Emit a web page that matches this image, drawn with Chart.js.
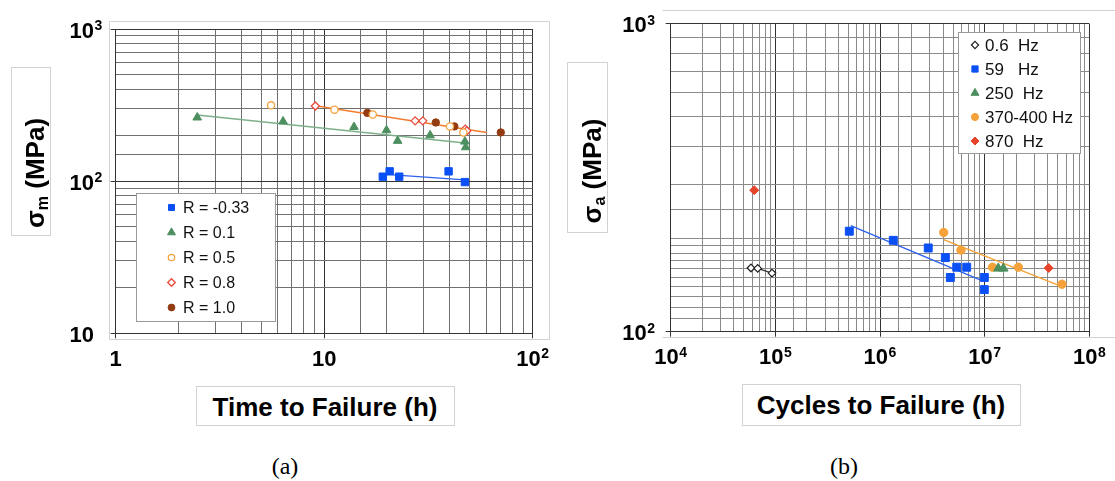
<!DOCTYPE html>
<html>
<head>
<meta charset="utf-8">
<script src="https://cdn.jsdelivr.net/npm/chart.js@4.4.1/dist/chart.umd.min.js"></script>
<style>
  body { margin: 0; background: #fff; width: 1115px; height: 481px; position: relative; overflow: hidden;
         font-family: "Liberation Sans", Arial, sans-serif; }
  canvas { position: absolute; top: 0; }
  .box { position: absolute; border: 1px solid #d2d2d2; box-sizing: border-box; background: #fff; }
  .ttl { position: absolute; font-weight: bold; font-size: 26px; white-space: nowrap; color: #000;
         transform: translate(-50%, -50%); line-height: 1; }
  .ttl.rot { transform: translate(-50%, -50%) rotate(-90deg); }
  .ttl sub { font-size: 0.62em; vertical-align: -0.25em; }
  .cap { position: absolute; font-family: "Liberation Serif", "Times New Roman", serif; font-size: 24px;
         transform: translate(-50%, -50%); line-height: 1; }
</style>
</head>
<body>
<canvas id="chartA" width="560" height="400" style="left:0"></canvas>
<canvas id="chartB" width="555" height="400" style="left:560px"></canvas>

<div class="box" style="left:11px;top:67px;width:40px;height:169px"></div>
<div class="ttl rot" style="left:36px;top:173px">σ<sub>m</sub> (MPa)</div>
<div class="box" style="left:196px;top:386px;width:259px;height:40px"></div>
<div class="ttl" style="left:325px;top:407px">Time to Failure (h)</div>
<div class="cap" style="left:285px;top:466px">(a)</div>

<div class="box" style="left:567px;top:62px;width:41px;height:171px"></div>
<div class="ttl rot" style="left:593px;top:171px">σ<sub>a</sub> (MPa)</div>
<div class="box" style="left:742px;top:384px;width:279px;height:42px"></div>
<div class="ttl" style="left:881px;top:405px">Cycles to Failure (h)</div>
<div class="cap" style="left:844px;top:466px">(b)</div>

<script>
// ---- (a) time to failure (h) / mean stress (MPa)
const aRm033T = [19.1, 20.6, 22.9, 39.5, 47.3];
const aRm033S = [107, 116, 107, 116, 98.6];
const aR01T = [2.46, 6.35, 13.9, 19.9, 22.5, 32.2, 47.3, 47.7];
const aR01S = [262, 247, 227, 216, 184, 200, 182, 167];
const aR05T = [5.56, 11.2, 17.1, 40.1, 46.5];
const aR05S = [315, 295, 274, 229, 209];
const aR08T = [9.07, 27.3, 29.7, 47.5, 48.3];
const aR08S = [312, 249, 249, 220, 214];
const aR10T = [16.1, 34.3, 42.1, 70.3];
const aR10S = [281, 243, 229, 209];
// fitted lines, end points
const aFitBlueT = [21.4, 47.3],  aFitBlueS = [110, 102];
const aFitGreenT = [2.46, 47.3], aFitGreenS = [272, 178];
const aFitOrangeT = [9.07, 60.2], aFitOrangeS = [313, 209];
// tick labels: base and exponent
const aXTicks = [1, 10, 100],    aXTickBase = ['1', '10', '10'],  aXTickExp = ['', '', '2'];
const aYTicks = [10, 100, 1000], aYTickBase = ['10', '10', '10'], aYTickExp = ['', '2', '3'];

// ---- (b) cycles to failure / stress amplitude (MPa)
const b06N = [5.85e4, 6.78e4, 9.29e4];
const b06S = [161, 160.5, 155];
const b59N = [5.09e5, 1.34e6, 2.89e6, 4.21e6, 5.41e6, 6.74e6, 4.70e6, 9.93e6, 9.93e6];
const b59S = [212, 198, 187, 174, 162, 162, 150, 150, 137];
const b250N = [1.35e7, 1.51e7];
const b250S = [160.5, 160.5];
const b370N = [4.06e6, 5.94e6, 1.19e7, 2.10e7, 5.48e7];
const b370S = [210, 184, 162, 162, 142.6];
const b870N = [6.29e4, 4.09e7];
const b870S = [288, 161];
const bFitBlackN = [6.78e4, 9.29e4],  bFitBlackS = [160.5, 155];
const bFitBlueN = [5.25e5, 9.17e6],   bFitBlueS = [221, 147];
const bFitOrangeN = [4.06e6, 5.48e7], bFitOrangeS = [199, 140];
const bXTicks = [1e4, 1e5, 1e6, 1e7, 1e8], bXTickBase = ['10', '10', '10', '10', '10'], bXTickExp = ['4', '5', '6', '7', '8'];
const bYTicks = [100, 1000], bYTickBase = ['10', '10'], bYTickExp = ['2', '3'];

const pts = (xs, ys) => xs.map((x, i) => ({x: x, y: ys[i]}));
const isDecade = v => Math.abs(Math.log10(v) - Math.round(Math.log10(v))) < 1e-9;

const marks = (label, x, y, style, r, fill, line, bw) => ({
  label, data: pts(x, y), pointStyle: style, pointRadius: r, pointHoverRadius: r,
  backgroundColor: fill, borderColor: line, pointBorderWidth: bw || 1, showLine: false
});
const fit = (x, y, color) => ({
  data: pts(x, y), showLine: true, pointRadius: 0, borderColor: color, borderWidth: 1.4,
  backgroundColor: color, order: 5
});

// light frame lines round each plot
const frame = {
  id: 'frame',
  beforeDraw(chart, args, o) {
    const ctx = chart.ctx;
    ctx.save();
    ctx.strokeStyle = '#d2d2d2';
    ctx.lineWidth = 1;
    ctx.beginPath();
    o.lines.forEach(l => { ctx.moveTo(l[0], l[1]); ctx.lineTo(l[2], l[3]); });
    ctx.stroke();
    ctx.restore();
  }
};

// decade labels "10" + raised exponent, placed with the scales
const decadeLabels = {
  id: 'decadeLabels',
  afterDraw(chart, args, o) {
    const ctx = chart.ctx, area = chart.chartArea;
    const big = 'bold 22px "Liberation Sans", Arial, sans-serif';
    const small = 'bold 14px "Liberation Sans", Arial, sans-serif';
    const put = (base, exp, left, yb) => {
      ctx.font = big;
      ctx.fillText(base, left, yb);
      const w = ctx.measureText(base).width;
      if (exp) { ctx.font = small; ctx.fillText(exp, left + w + 0.5, yb - 7.5); }
    };
    const width = (base, exp) => {
      ctx.font = big; let w = ctx.measureText(base).width;
      if (exp) { ctx.font = small; w += ctx.measureText(exp).width + 0.5; }
      return w;
    };
    ctx.save();
    ctx.fillStyle = '#000';
    ctx.textAlign = 'left';
    ctx.textBaseline = 'alphabetic';
    o.x.vals.forEach((v, i) => {
      const px = chart.scales.x.getPixelForValue(v);
      const w = width(o.x.base[i], o.x.exp[i]);
      put(o.x.base[i], o.x.exp[i], px - w / 2, area.bottom + 32.5);
    });
    o.y.vals.forEach((v, i) => {
      const py = chart.scales.y.getPixelForValue(v);
      ctx.font = big;
      const w = ctx.measureText(o.y.base[i]).width;
      put(o.y.base[i], o.y.exp[i], area.left - o.y.gap - w, py + 8.5);
    });
    ctx.restore();
  }
};

// legend drawn in a white box inside the plot
const boxLegend = {
  id: 'boxLegend',
  afterDatasetsDraw(chart, args, o) {
    const ctx = chart.ctx;
    ctx.save();
    ctx.fillStyle = '#fff';
    ctx.fillRect(o.x, o.y, o.w, o.h);
    ctx.strokeStyle = '#9a9a9a';
    ctx.lineWidth = 1;
    ctx.strokeRect(o.x + 0.5, o.y + 0.5, o.w, o.h);
    ctx.font = o.font;
    ctx.textBaseline = 'middle';
    chart.data.datasets.filter(d => d.label).forEach((d, i) => {
      const cy = o.y + o.first + i * o.row;
      ctx.fillStyle = d.backgroundColor;
      ctx.strokeStyle = d.borderColor;
      ctx.lineWidth = d.pointBorderWidth;
      Chart.helpers.drawPoint(ctx, {pointStyle: d.pointStyle, radius: o.r[i], rotation: 0,
        borderWidth: d.pointBorderWidth}, o.mx, cy);
      ctx.fillStyle = '#111';
      ctx.fillText(d.label, o.tx, cy + 1);
    });
    ctx.restore();
  }
};

const logAxis = (min, max, minor, extra) => Object.assign({
  type: 'logarithmic', min, max,
  border: {color: '#333', width: 1},
  grid: {
    color: c => c.tick && isDecade(c.tick.value) ? '#333' : minor,
    tickColor: c => c.tick && isDecade(c.tick.value) ? '#333' : 'rgba(0,0,0,0)',
    tickLength: 5, lineWidth: 1
  },
  ticks: {display: false, autoSkip: false, maxRotation: 0}
}, extra);

Chart.defaults.animation = false;

new Chart('chartA', {
  type: 'scatter',
  data: {datasets: [
    marks('R = -0.33', aRm033T, aRm033S, 'rect', 5.2, '#0b50f5', '#0b50f5'),
    marks('R = 0.1', aR01T, aR01S, 'triangle', 5, '#4d8f5f', '#4d8f5f'),
    marks('R = 0.5', aR05T, aR05S, 'circle', 3.6, '#fff', '#f5a340', 1.3),
    marks('R = 0.8', aR08T, aR08S, 'rectRot', 4, '#fff', '#ea4a3a', 1.3),
    marks('R = 1.0', aR10T, aR10S, 'circle', 3.7, '#933c12', '#933c12'),
    fit(aFitBlueT, aFitBlueS, '#2d62f0'),
    fit(aFitGreenT, aFitGreenS, '#7db08a'),
    fit(aFitOrangeT, aFitOrangeS, '#f27d30')
  ]},
  options: {
    responsive: false,
    layout: {autoPadding: false, padding: {left: 0, top: 29, right: 27.3, bottom: 26.7}},
    plugins: {
      legend: {display: false}, tooltip: {enabled: false},
      frame: {lines: [[109.5, 21.5, 549.5, 21.5], [109.5, 339.5, 549.5, 339.5],
                      [109.5, 21.5, 109.5, 339.5], [549.5, 21.5, 549.5, 339.5]]},
      decadeLabels: {x: {vals: aXTicks, base: aXTickBase, exp: aXTickExp},
                     y: {vals: aYTicks, base: aYTickBase, exp: aYTickExp, gap: 21.7}},
      boxLegend: {x: 136, y: 193, w: 139, h: 128, first: 14.5, row: 25, mx: 171.5, tx: 183,
                  r: [4.2, 4.6, 3.2, 3.8, 3.4], font: '16px "Liberation Sans", Arial, sans-serif'}
    },
    scales: {
      x: logAxis(1, 100, '#707070',
        {afterFit: s => { s.height = 40; s.paddingLeft = 0; s.paddingRight = 0; }}),
      y: logAxis(10, 1000, '#707070',
        {afterFit: s => { s.width = 115.7; s.paddingTop = 0; s.paddingBottom = 0; }})
    }
  },
  plugins: [frame, boxLegend, decadeLabels]
});

new Chart('chartB', {
  type: 'scatter',
  data: {datasets: [
    marks('0.6  Hz', b06N, b06S, 'rectRot', 3.8, '#fff', '#222', 1.2),
    marks('59   Hz', b59N, b59S, 'rect', 5.6, '#0b50f5', '#0b50f5'),
    marks('250  Hz', b250N, b250S, 'triangle', 5.4, '#4d8f5f', '#4d8f5f'),
    marks('370-400 Hz', b370N, b370S, 'circle', 4.2, '#f6a23a', '#f6a23a'),
    marks('870  Hz', b870N, b870S, 'rectRot', 4.5, '#e8432b', '#e8432b'),
    fit(bFitBlackN, bFitBlackS, '#333'),
    fit(bFitBlueN, bFitBlueS, '#2d62f0'),
    fit(bFitOrangeN, bFitOrangeS, '#f6a23a')
  ]},
  options: {
    responsive: false,
    layout: {autoPadding: false, padding: {left: 0, top: 23.7, right: 25.7, bottom: 28.3}},
    plugins: {
      legend: {display: false}, tooltip: {enabled: false},
      frame: {lines: [[102.7, 10.5, 555, 10.5], [102.7, 337.5, 555, 337.5]]},
      decadeLabels: {x: {vals: bXTicks, base: bXTickBase, exp: bXTickExp},
                     y: {vals: bYTicks, base: bYTickBase, exp: bYTickExp, gap: 24}},
      boxLegend: {x: 398, y: 32, w: 122, h: 121, first: 13, row: 24, mx: 415, tx: 425,
                  r: [3.6, 4.4, 4.6, 3.6, 4], font: '17px "Liberation Sans", Arial, sans-serif'}
    },
    scales: {
      x: logAxis(1e4, 1e8, '#8a8a8a',
        {afterFit: s => { s.height = 40; s.paddingLeft = 0; s.paddingRight = 0; }}),
      y: logAxis(100, 1000, '#8a8a8a',
        {afterFit: s => { s.width = 110.7; s.paddingTop = 0; s.paddingBottom = 0; }})
    }
  },
  plugins: [frame, boxLegend, decadeLabels]
});
</script>
</body>
</html>
